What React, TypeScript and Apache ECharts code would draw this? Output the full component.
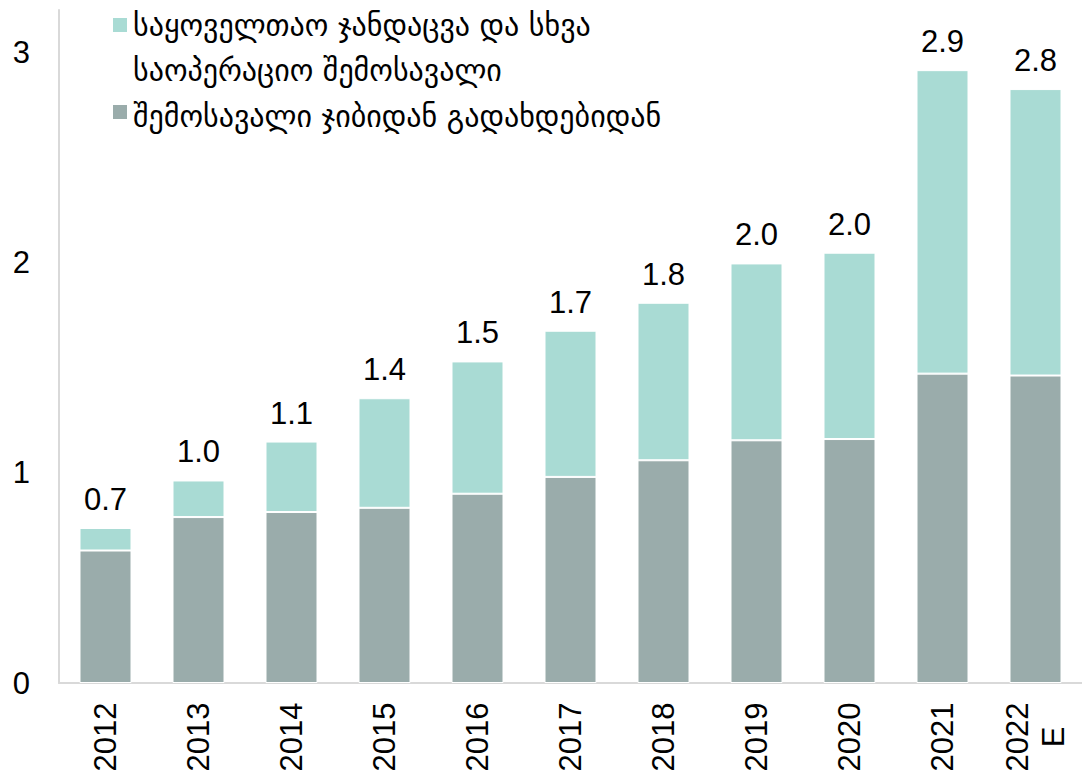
import React, { useEffect, useRef } from "react";
import * as echarts from "echarts";

const categories = ["2012", "2013", "2014", "2015", "2016", "2017", "2018", "2019", "2020", "2021", "2022\nE"];
const outOfPocket = [0.63, 0.789, 0.813, 0.833, 0.9, 0.98, 1.059, 1.154, 1.16, 1.471, 1.462];
const universalAndOther = [0.107, 0.174, 0.335, 0.521, 0.629, 0.695, 0.749, 0.841, 0.886, 1.443, 1.362];
const legendNames = [
  "საყოველთაო ჯანდაცვა და სხვა\nსაოპერაციო შემოსავალი",
  "შემოსავალი ჯიბიდან გადახდებიდან",
];
const yTicks = [0, 1, 2, 3];

const TEAL = "#a9dbd4";
const GREY = "#9aacab";
const NUM_FONT = "'Liberation Sans', Arial, sans-serif";
const GEO_FONT = "'DejaVu Sans', sans-serif";

export default function App() {
  const ref = useRef<HTMLDivElement>(null);
  useEffect(() => {
    if (!ref.current) return;
    const chart = echarts.init(ref.current, null, { renderer: "svg" });
    const totals = outOfPocket.map((v, i) => v + universalAndOther[i]);
    chart.setOption({
      animation: false,
      backgroundColor: "#ffffff",
      grid: { left: 59, top: 10, width: 1034, height: 673, containLabel: false },
      xAxis: {
        type: "category",
        data: categories,
        axisLine: { show: true, lineStyle: { color: "#d9d9d9", width: 2 } },
        axisTick: { show: false },
        axisLabel: {
          rotate: 90,
          align: "center",
          verticalAlign: "middle",
          margin: 54,
          fontSize: 31,
          lineHeight: 36,
          color: "#000",
          fontFamily: NUM_FONT,
          interval: 0,
        },
      },
      yAxis: {
        type: "value",
        min: yTicks[0],
        max: 3.2,
        interval: 1,
        axisLine: { show: true, lineStyle: { color: "#d9d9d9", width: 2 } },
        axisTick: { show: false },
        splitLine: { show: false },
        axisLabel: {
          showMaxLabel: false,
          margin: 29,
          fontSize: 31,
          color: "#000",
          fontFamily: NUM_FONT,
          formatter: (v: number) => (yTicks.includes(v) ? String(v) : ""),
        },
      },
      series: [
        {
          name: legendNames[1],
          type: "bar",
          stack: "total",
          barWidth: 52,
          data: outOfPocket,
          itemStyle: { color: GREY, borderColor: "#ffffff", borderWidth: 1 },
        },
        {
          name: legendNames[0],
          type: "bar",
          stack: "total",
          barWidth: 52,
          data: universalAndOther,
          itemStyle: { color: TEAL, borderColor: "#ffffff", borderWidth: 1 },
          label: {
            show: true,
            position: "top",
            distance: 13,
            fontSize: 31,
            color: "#000",
            fontFamily: NUM_FONT,
            formatter: (p: any) => totals[p.dataIndex].toFixed(1),
          },
        },
      ],
      graphic: [
        { type: "rect", shape: { x: 113, y: 18, width: 14, height: 14 }, style: { fill: TEAL } },
        {
          type: "text",
          x: 133,
          y: 3,
          style: {
            text: legendNames[0],
            font: `30px ${GEO_FONT}`,
            fill: "#000",
            lineHeight: 45,
            verticalAlign: "top",
          },
        },
        { type: "rect", shape: { x: 113, y: 105, width: 14, height: 14 }, style: { fill: GREY } },
        {
          type: "text",
          x: 133,
          y: 94,
          style: {
            text: legendNames[1],
            font: `30px ${GEO_FONT}`,
            fill: "#000",
            lineHeight: 45,
            verticalAlign: "top",
          },
        },
      ],
    });
    return () => chart.dispose();
  }, []);
  return (
    <div
      ref={ref}
      style={{ position: "fixed", left: 0, top: 0, width: 1082, height: 776, background: "#fff" }}
    />
  );
}
